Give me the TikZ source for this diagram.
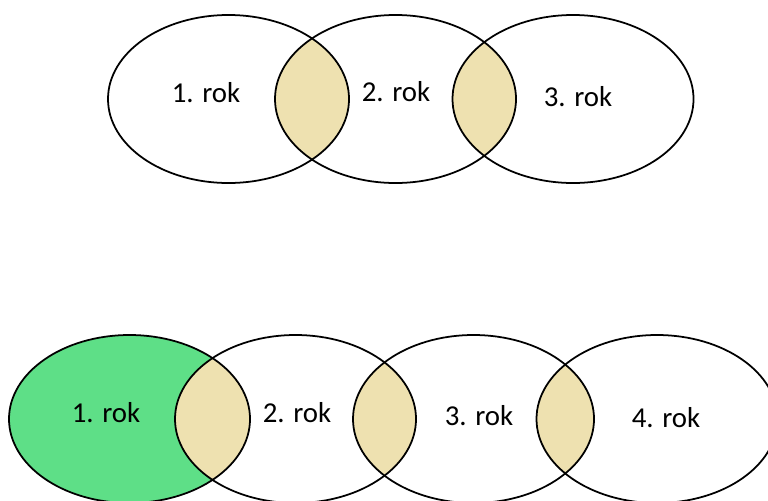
\documentclass[tikz,border=0pt]{standalone}
\usepackage{fontspec}
\setmainfont{Carlito}
\definecolor{rokgreen}{HTML}{5EDF87}
\definecolor{roksand}{HTML}{EEE1B0}
\usetikzlibrary{positioning}

\begin{document}
\begin{tikzpicture}[x=0.01cm,y=-0.01cm]
  \tikzset{
    rok/.style={font=\fontsize{8.2}{10}\selectfont,inner sep=0pt},
    ring/.style={line width=0.5pt}
  }
  \useasboundingbox (0,0) rectangle (768,500);
  \clip (0,0) rectangle (768,500);
  % first year in the lower row
  \fill[rokgreen] (129.5,419) ellipse (120.5 and 84);
  % overlaps of neighbouring years
  \foreach \a/\b/\y in {228.5/395.5/99,395.5/573/99,129.5/295.5/419,295.5/473.5/419,473.5/657/419} {
    \begin{scope}
      \clip (\a,\y) ellipse (120.5 and 84);
      \fill[roksand] (\b,\y) ellipse (120.5 and 84);
    \end{scope}
  }
  % upper row: three years
  \foreach \x in {228.5,395.5,573} \draw[ring] (\x,99) ellipse (120.5 and 84);
  \node[rok] (a1) at (206,93) {1. rok};
  \node[rok] (a2) at (396,92) {2. rok};
  \node[rok] (a3) at (578,97) {3. rok};
  % lower row: four years
  \foreach \x in {129.5,295.5,473.5,657} \draw[ring] (\x,419) ellipse (120.5 and 84);
  \node[rok] (b1) at (106,413) {1. rok};
  \node[rok] (b2) at (297,413) {2. rok};
  \node[rok] (b3) at (479,416) {3. rok};
  \node[rok] (b4) at (666,418) {4. rok};
\end{tikzpicture}
\end{document}
